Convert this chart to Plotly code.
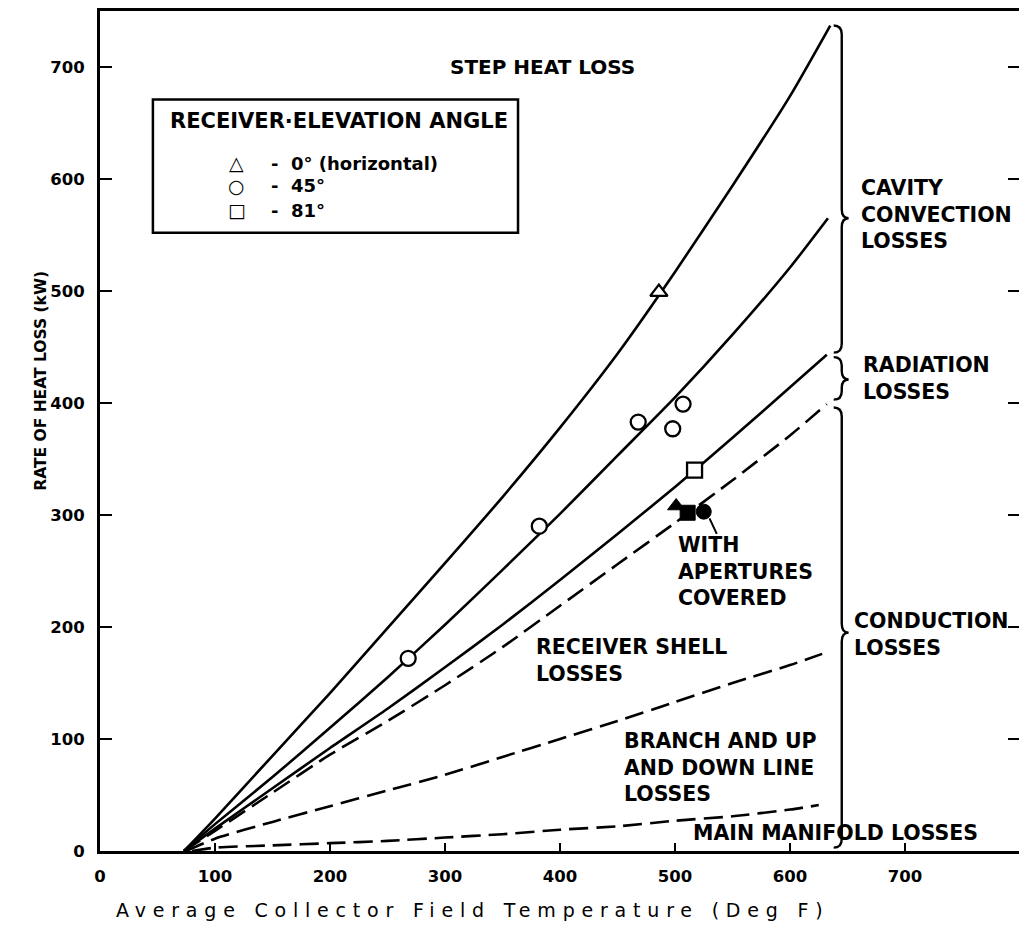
import plotly.graph_objects as go

# ---------------- data ----------------
temp_total = [73, 100, 150, 200, 250, 300, 350, 400, 450, 500, 550, 600, 635]
loss_total = [0, 29, 85, 141, 199, 257, 316, 378, 444, 517, 594, 674, 737]

temp_45 = [73, 100, 150, 200, 250, 300, 350, 400, 450, 500, 550, 600, 633]
loss_45 = [0, 24, 66, 110, 155, 202, 251, 301, 353, 405, 461, 521, 565]

temp_rad = [73, 100, 150, 200, 250, 300, 350, 400, 450, 500, 550, 600, 632]
loss_rad = [0, 20, 56, 92, 127, 164, 202, 242, 283, 325, 369, 414, 443]

temp_cond = [73, 100, 150, 200, 250, 300, 350, 400, 450, 500, 550, 600, 632]
loss_cond = [0, 18, 52, 86, 116, 148, 182, 219, 256, 293, 331, 371, 399]

temp_branch = [75, 100, 150, 200, 250, 300, 350, 400, 450, 500, 550, 600, 628]
loss_branch = [0, 11, 26, 40, 54, 68, 84, 100, 116, 133, 150, 166, 176]

temp_main = [80, 100, 150, 200, 250, 300, 350, 400, 450, 500, 550, 600, 625]
loss_main = [0, 3, 5, 7, 9, 12, 15, 19, 22, 27, 31, 37, 41]

tri_x = [486]
tri_y = [499]
c45_x = [268, 382, 468, 498, 507]
c45_y = [172, 290, 383, 377, 399]
sq_x = [517]
sq_y = [340]
covered_x = [501, 511, 525]
covered_y = [308, 302, 303]
covered_sym = ["triangle-up", "square", "circle"]

x_ticks = [0, 100, 200, 300, 400, 500, 600, 700]
y_ticks = [0, 100, 200, 300, 400, 500, 600, 700]

# ---------------- figure ----------------
BOLD = "DejaVu Sans"
fig = go.Figure()

solid = dict(color="black", width=2.6)
dashed = dict(color="black", width=2.6, dash="19px,8px")

for xs, ys, ln in [
    (temp_total, loss_total, solid),
    (temp_45, loss_45, solid),
    (temp_rad, loss_rad, solid),
    (temp_cond, loss_cond, dashed),
    (temp_branch, loss_branch, dashed),
    (temp_main, loss_main, dashed),
]:
    fig.add_trace(go.Scatter(x=xs, y=ys, mode="lines", line=dict(shape="spline", smoothing=0.6, **ln),
                             hoverinfo="skip"))

mk_line = dict(color="black", width=2.3)
fig.add_trace(go.Scatter(x=tri_x, y=tri_y, mode="markers",
                         marker=dict(symbol="triangle-up", size=15, color="white", line=mk_line)))
fig.add_trace(go.Scatter(x=c45_x, y=c45_y, mode="markers",
                         marker=dict(symbol="circle", size=15, color="white", line=mk_line)))
fig.add_trace(go.Scatter(x=sq_x, y=sq_y, mode="markers",
                         marker=dict(symbol="square", size=15, color="white", line=mk_line)))
fig.add_trace(go.Scatter(x=covered_x, y=covered_y, mode="markers",
                         marker=dict(symbol=covered_sym, size=15, color="black", line=dict(color="black", width=1))))

# ---------------- braces ----------------
def brace(yt, yb, ym, xc=645, d=7, tip=6):
    h = min(8, (yt - yb) / 5)
    return (f"M {xc-d},{yt} Q {xc},{yt} {xc},{yt-h} L {xc},{ym+h} "
            f"Q {xc},{ym} {xc+tip},{ym} Q {xc},{ym} {xc},{ym-h} "
            f"L {xc},{yb+h} Q {xc},{yb} {xc-d},{yb}")

shapes = [
    dict(type="path", path=brace(loss_total[-1], loss_rad[-1] + 2, loss_45[-1]),
         xref="x", yref="y", line=dict(color="black", width=2.4)),
    dict(type="path", path=brace(loss_rad[-1] - 2, loss_cond[-1] + 4, (loss_rad[-1] + loss_cond[-1]) / 2),
         xref="x", yref="y", line=dict(color="black", width=2.4)),
    dict(type="path", path=brace(loss_cond[-1] - 3, 3, 195),
         xref="x", yref="y", line=dict(color="black", width=2.4)),
    # legend box
    dict(type="rect", xref="x", yref="y", x0=46, x1=363.5, y0=552, y1=671,
         line=dict(color="black", width=2.5), fillcolor="white", layer="above"),
]

ann = []
def label(text, x, y, size=20.5, xanchor="left"):
    ann.append(dict(text=text, x=x, y=y, xref="x", yref="y", xanchor=xanchor, yanchor="middle",
                    showarrow=False, font=dict(family=BOLD, size=size, color="black", weight="bold"),
                    align="left"))

label("STEP HEAT LOSS", 385, 700, size=20, xanchor="center")
label("CAVITY<br>CONVECTION<br>LOSSES", 660, 568)
label("RADIATION<br>LOSSES", 662, 422)
label("CONDUCTION<br>LOSSES", 654, 193)
label("WITH<br>APERTURES<br>COVERED", 501, 250)
label("RECEIVER SHELL<br>LOSSES", 377, 170)
label("BRANCH AND UP<br>AND DOWN LINE<br>LOSSES", 454, 75)
label("MAIN MANIFOLD LOSSES", 514, 16)

# legend contents
label("RECEIVER\u00b7ELEVATION ANGLE", 208, 652, size=21, xanchor="center")
for sym, txt, yy in [("\u25b3", "-  0\u00b0 (horizontal)", 614),
                     ("\u25cb", "-  45\u00b0", 594),
                     ("\u25a1", "-  81\u00b0", 572)]:
    ann.append(dict(text=sym, x=119, y=yy, xref="x", yref="y", showarrow=False,
                    font=dict(family="DejaVu Sans", size=19, color="black", weight="bold")))
    label(txt, 147, yy, size=18)

# arrow from the covered-aperture point
ann.append(dict(text="", x=530, y=297, xref="x", yref="y", showarrow=True, arrowhead=0,
                arrowwidth=2, arrowcolor="black", ax=8, ay=17))

# axis titles
ann.append(dict(text="RATE OF HEAT LOSS (kW)", x=-0.065, y=0.56, xref="paper", yref="paper",
                xanchor="center", yanchor="middle", textangle=-90, showarrow=False,
                font=dict(family=BOLD, size=15.5, color="black", weight="bold")))
ann.append(dict(text='<span style="letter-spacing:6.8px">Average Collector Field Temperature (Deg F)</span>',
                x=0.405, y=-0.07, xref="paper", yref="paper", showarrow=False, yanchor="middle",
                font=dict(family="DejaVu Sans", size=19, color="black")))

fig.update_layout(
    width=1027, height=926,
    margin=dict(l=92, r=15, t=0, b=83),
    plot_bgcolor="white", paper_bgcolor="white",
    showlegend=False,
    shapes=shapes, annotations=ann,
    xaxis=dict(range=[0, 800], tickvals=x_ticks, ticktext=[str(v) for v in x_ticks],
               ticks="inside", ticklen=8, tickwidth=2, tickcolor="black",
               showline=True, linecolor="black", linewidth=3, mirror=True,
               showgrid=False, zeroline=False, ticklabelstandoff=8,
               tickfont=dict(family=BOLD, size=16.5, color="black", weight="bold")),
    yaxis=dict(range=[0, 750], tickvals=y_ticks, ticktext=[str(v) for v in y_ticks],
               ticks="inside", ticklen=12, tickwidth=2, tickcolor="black",
               showline=True, linecolor="black", linewidth=3, mirror="ticks",
               showgrid=False, zeroline=False, ticklabelstandoff=9,
               tickfont=dict(family=BOLD, size=16.5, color="black", weight="bold")),
)

fig.write_html("out.html")
